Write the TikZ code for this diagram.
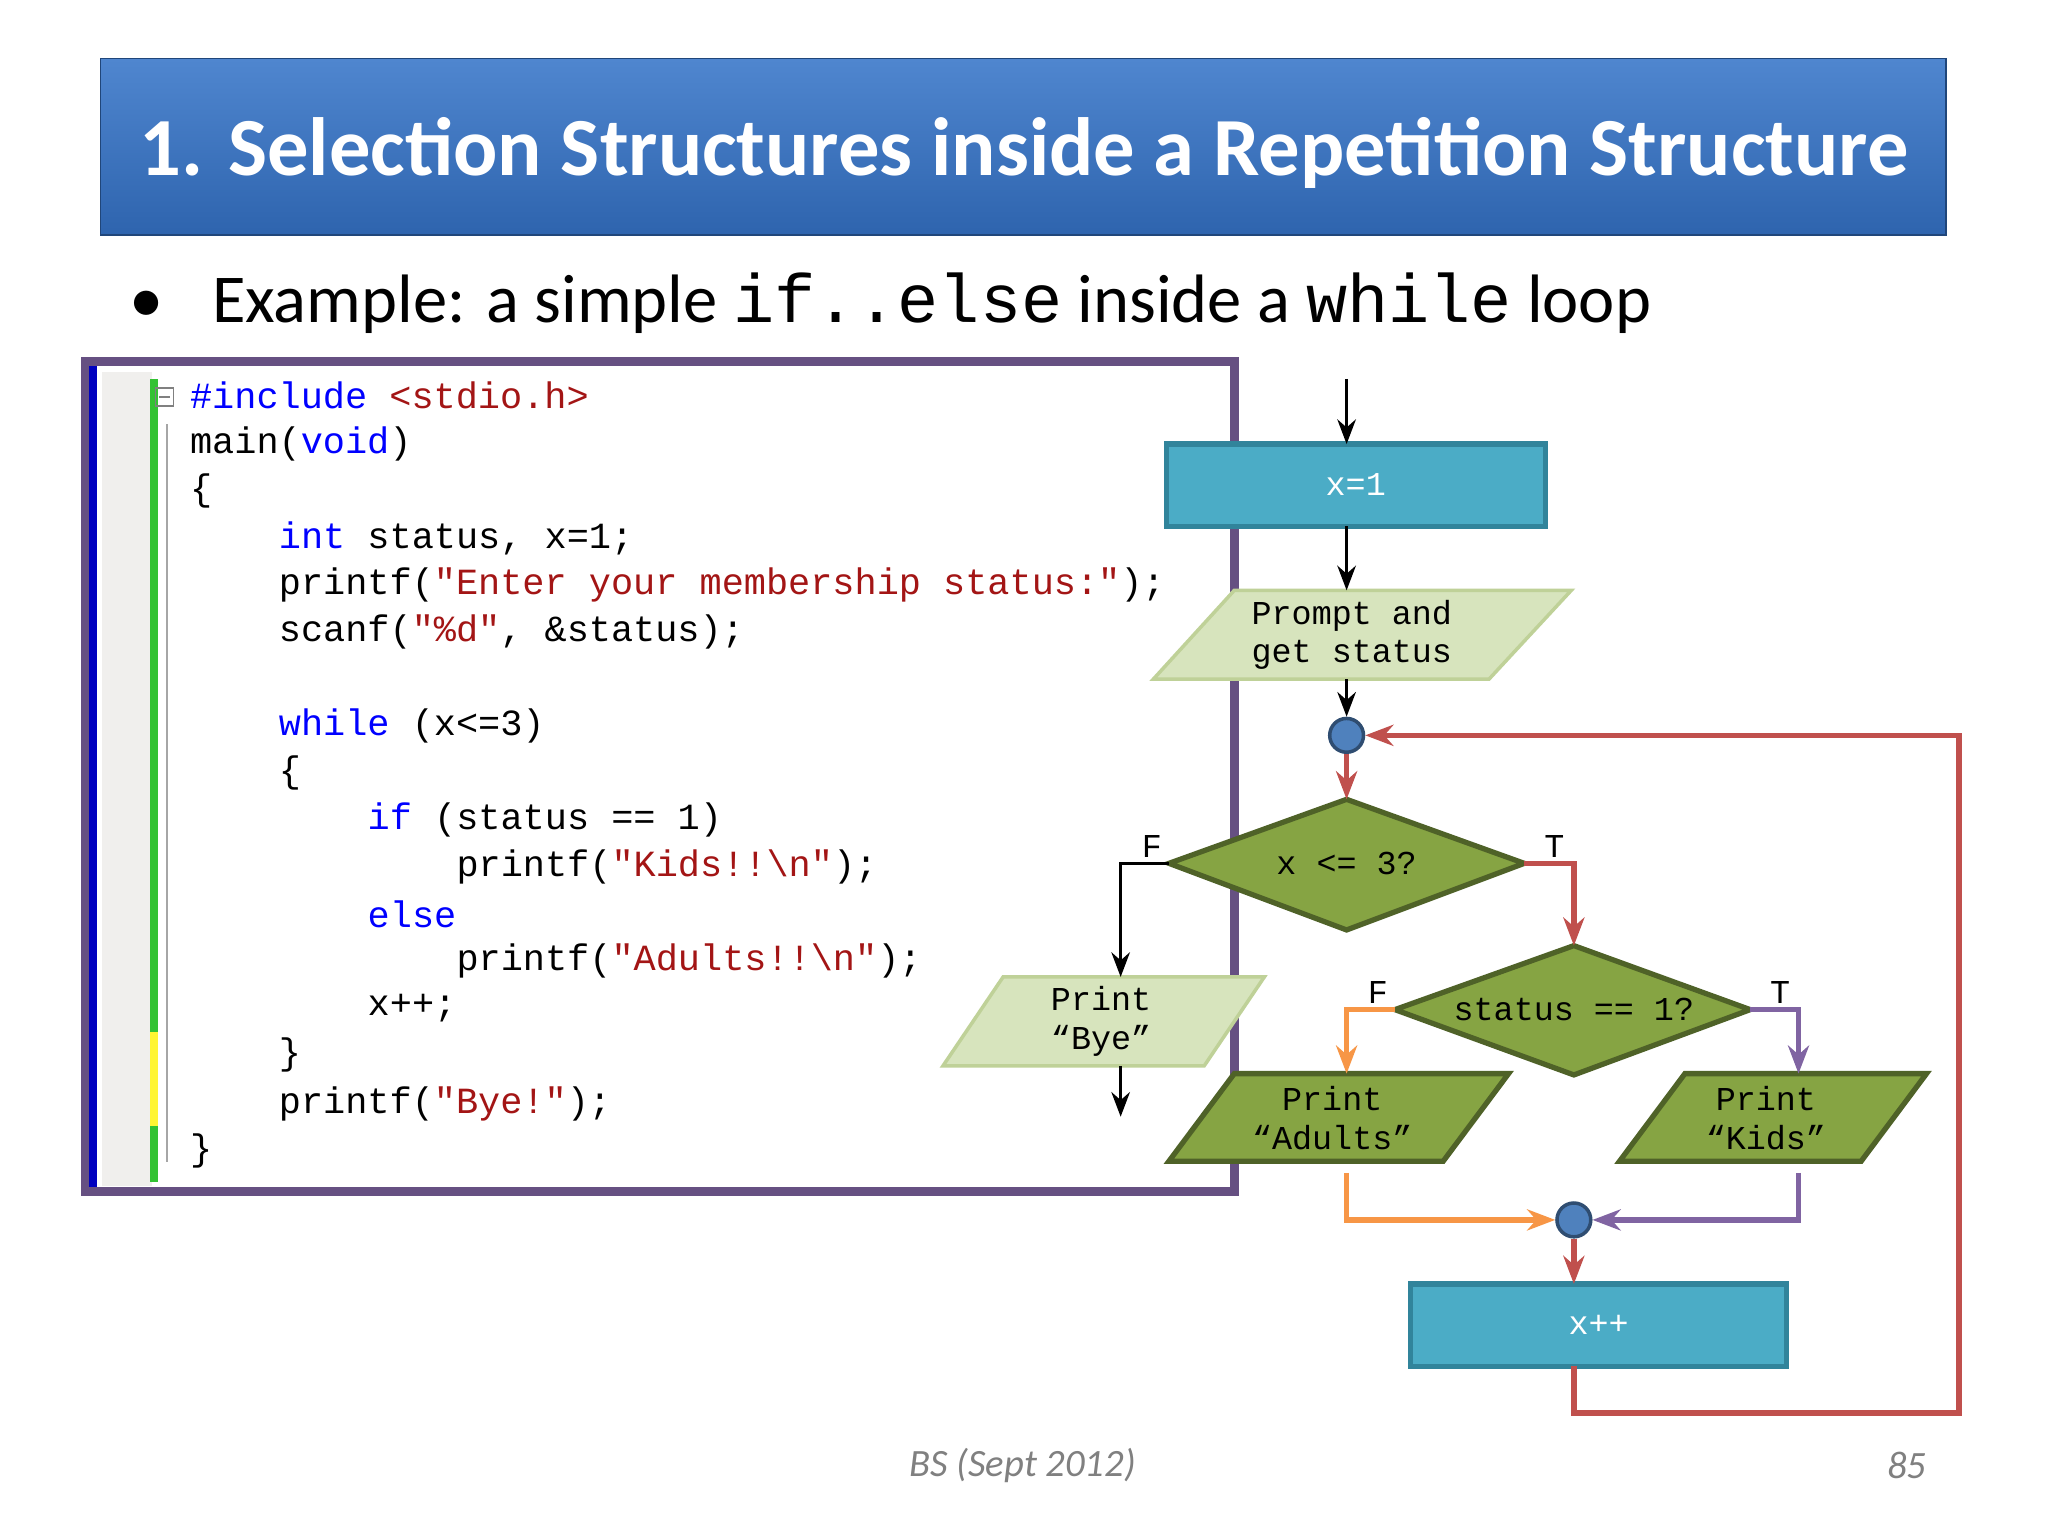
\documentclass[tikz,border=0pt]{standalone}
\usepackage{fontspec}
\setmainfont{Carlito}
\newfontfamily\codefont{Liberation Mono}
\usetikzlibrary{arrows.meta,shapes.geometric,calc}
\definecolor{titleblue}{HTML}{2E64AE}
\definecolor{titletop}{HTML}{4F86CF}
\definecolor{kw}{HTML}{0000FF}
\definecolor{str}{HTML}{A31515}
\definecolor{boxblue}{HTML}{4BACC6}
\definecolor{boxedge}{HTML}{31849B}
\definecolor{lgreen}{HTML}{D7E4BD}
\definecolor{olive}{HTML}{86A443}
\definecolor{oliveedge}{HTML}{4F6228}
\definecolor{lred}{HTML}{C0504D}
\definecolor{lorange}{HTML}{F79646}
\definecolor{lpurple}{HTML}{8064A2}
\definecolor{dotblue}{HTML}{4F81BD}
\begin{document}
\begin{tikzpicture}[x=0.013061cm,y=-0.013061cm,
  code/.style={anchor=west,inner sep=0,font=\codefont\fontsize{10.5}{12}\selectfont},
  flow/.style={font=\codefont\fontsize{9.5}{11}\selectfont,align=center},
  con/.style={line width=1.6pt,-{Stealth[length=8pt]}},
  blk/.style={line width=1pt,-{Stealth[length=7pt]}},
  procbox/.style={fill=boxblue,draw=boxedge,line width=1.5pt},
  lightpar/.style={fill=lgreen,draw=lgreen!70!olive,line width=1pt},
  darkpar/.style={fill=olive,draw=oliveedge,line width=1.5pt},
  lbl/.style={font=\codefont\fontsize{9.5}{11}\selectfont,inner sep=0}]
\useasboundingbox (0,0) rectangle (1568,1176);
\fill[white] (0,0) rectangle (1568,1176);
% title bar
\shade[top color=titletop,bottom color=titleblue,draw=titleblue!70!black] (77,45) rectangle (1490,180);
\node[text=white,font=\bfseries\fontsize{23.5}{27}\selectfont] (title) at (784,117) {1. Selection Structures inside a Repetition Structure};
\node[anchor=west,font=\fontsize{19.5}{23}\selectfont] (bul) at (90,232) {\textbullet\hspace{0.7em}Example: a simple {\codefont\fontsize{19.5}{23}\selectfont if..else} inside a {\codefont\fontsize{19.5}{23}\selectfont while} loop};
% code window
\fill[white] (65,277) rectangle (945,912);
\fill[blue!75!black] (67,279) rectangle (74,910);
\fill[yellow!8!gray!15] (78,285) rectangle (116,908);
\fill[green!70!black!80] (115,290) rectangle (121,790);
\fill[yellow!80] (115,790) rectangle (121,862);
\fill[green!70!black!80] (115,862) rectangle (121,905);
\draw[gray!70] (128,325) -- (128,890);
\draw[gray] (119,297) rectangle (133,311); \draw[gray] (122,304) -- (130,304);
\draw[line width=2.5pt,color=lpurple!80!black] (65,277) rectangle (945,912);
\node[code] (c1) at (145,303) {\textcolor{kw}{\#include} \textcolor{str}{<stdio.h>}};
\node[code] (c2) at (145,340) {main(\textcolor{kw}{void})};
\node[code] (c3) at (145,376) {\{};
\node[code] (c4) at (213,412) {\textcolor{kw}{int} status, x=1;};
\node[code] (c5) at (213,448) {printf(\textcolor{str}{"Enter your membership status:"});};
\node[code] (c6) at (213,484) {scanf(\textcolor{str}{"\%d"}, \&status);};
\node[code] (c7) at (213,556) {\textcolor{kw}{while} (x<=3)};
\node[code] (c8) at (213,592) {\{};
\node[code] (c9) at (281,628) {\textcolor{kw}{if} (status == 1)};
\node[code] (c10) at (349,664) {printf(\textcolor{str}{"Kids!!\textbackslash n"});};
\node[code] (c11) at (281,700) {\textcolor{kw}{else}};
\node[code] (c12) at (349,736) {printf(\textcolor{str}{"Adults!!\textbackslash n"});};
\node[code] (c13) at (281,772) {x++;};
\node[code] (c14) at (213,808) {\}};
\node[code] (c15) at (213,845) {printf(\textcolor{str}{"Bye!"});};
\node[code] (c16) at (145,881) {\}};
% flowchart shapes
\coordinate (start) at (1031,290);
\draw[procbox] (893,340) rectangle (1183,403);
\node[flow,text=white] (x1) at (1038,371) {x=1};
\coordinate (x1t) at (1031,340); \coordinate (x1b) at (1031,403);
\draw[lightpar] (945,452) -- (1203,452) -- (1140,520) -- (883,520) -- cycle;
\node[flow] (prompt) at (1035,486) {Prompt and\\get status};
\coordinate (prt) at (1031,452); \coordinate (prb) at (1031,520);
\node[circle,fill=dotblue,draw=dotblue!60!black,line width=1pt,minimum size=26pt*0.37,inner sep=0] (j1) at (1031,563) {};
\draw[darkpar] (895,661) -- (1031,612) -- (1167,661) -- (1031,712) -- cycle;
\node[flow] (d1) at (1031,661) {x <= 3?};
\coordinate (d1t) at (1031,612); \coordinate (d1l) at (895,661); \coordinate (d1r) at (1167,661);
\draw[darkpar] (1068,773) -- (1205,724) -- (1340,773) -- (1205,823) -- cycle;
\node[flow] (d2) at (1205,773) {status == 1?};
\coordinate (d2t) at (1205,724); \coordinate (d2l) at (1068,773); \coordinate (d2r) at (1340,773);
\draw[lightpar] (768,748) -- (968,748) -- (922,816) -- (722,816) -- cycle;
\node[flow] (bye) at (843,782) {Print\\“Bye”};
\coordinate (byet) at (858,748); \coordinate (byeb) at (858,816); \coordinate (byeend) at (858,855);
\draw[darkpar] (945,822) -- (1155,822) -- (1105,889) -- (895,889) -- cycle;
\node[flow] (adults) at (1020,856) {Print\\“Adults”};
\coordinate (adt) at (1031,822); \coordinate (adb) at (1031,898);
\draw[darkpar] (1290,822) -- (1475,822) -- (1425,889) -- (1240,889) -- cycle;
\node[flow] (kids) at (1352,856) {Print\\“Kids”};
\coordinate (kdt) at (1377,822); \coordinate (kdb) at (1377,898);
\node[circle,fill=dotblue,draw=dotblue!60!black,line width=1pt,minimum size=26pt*0.37,inner sep=0] (j2) at (1205,934) {};
\draw[procbox] (1080,983) rectangle (1368,1046);
\node[flow,text=white] (xpp) at (1224,1014) {x++};
\coordinate (xpt) at (1205,983); \coordinate (xpb) at (1205,1046);
% connectors
\draw[blk] (start) -- (x1t);
\draw[blk] (x1b) -- (prt);
\draw[blk] (prb) -- (j1.north);
\draw[con,lred] (j1.south) -- (d1t);
\draw[blk] (d1l) -| (byet);
\draw[blk] (byeb) -- (byeend);
\draw[con,lred] (d1r) -| (d2t);
\draw[con,lorange] (d2l) -| (adt);
\draw[con,lpurple] (d2r) -| (kdt);
\draw[con,lorange] (adb) |- (j2.west);
\draw[con,lpurple] (kdb) |- (j2.east);
\draw[con,lred] (j2.south) -- (xpt);
\draw[con,lred] (xpb) -- (1205,1082) -- (1500,1082) -- (1500,563) -- (j1.east);
\node[lbl] (f1) at (882,648) {F};
\node[lbl] (t1) at (1190,648) {T};
\node[lbl] (f2) at (1055,760) {F};
\node[lbl] (t2) at (1363,760) {T};
% footer
\node[text=gray,font=\itshape\fontsize{11}{13}\selectfont] (foot) at (783,1122) {BS (Sept 2012)};
\node[text=gray,font=\itshape\fontsize{11}{13}\selectfont] (pg) at (1460,1122) {85};
\end{tikzpicture}
\end{document}
